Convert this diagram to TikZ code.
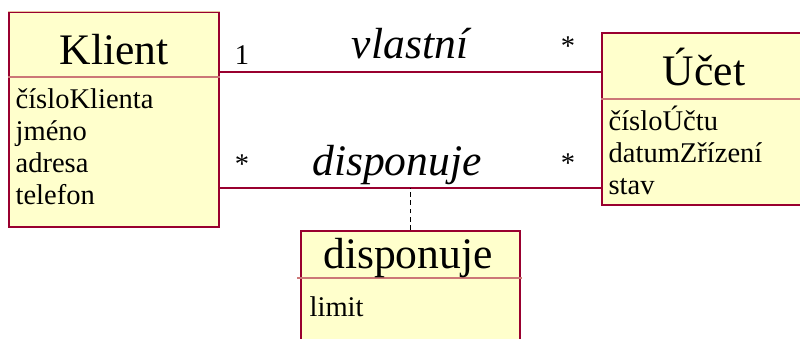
\documentclass[tikz,border=0pt]{standalone}
\usepackage{fontspec}
\setmainfont{LiberationSerif}[Extension=.ttf, UprightFont=*-Regular, ItalicFont=*-Italic, BoldFont=*-Bold]
\usepackage{xcolor}
\usepackage{tikz}
\usetikzlibrary{calc}

\definecolor{umlfill}{HTML}{FFFFCC}
\definecolor{umlline}{HTML}{99002F}
\definecolor{umldiv}{HTML}{CC7777}
\definecolor{umltop}{HTML}{E8C8A0}

\begin{document}
\begin{tikzpicture}[line width=0.9pt, color=black,
		clsbox/.style={draw=umlline, fill=umlfill, inner sep=0pt},
		divider/.style={draw=umldiv},
		assoc/.style={draw=umlline},
		title/.style={anchor=base, inner sep=0pt, font=\fontsize{31}{36}\selectfont},
		attr/.style={anchor=base west, inner sep=0pt, font=\fontsize{20.3}{24}\selectfont},
		role/.style={anchor=base, inner sep=0pt, font=\fontsize{31}{36}\selectfont\itshape},
		mult/.style={inner sep=0pt, font=\fontsize{20.3}{24}\selectfont}]
		\clip (0,0) rectangle (20,8.45);
		
		\node[clsbox, minimum width=5.25cm, minimum height=5.375cm] (klient) at (2.85,5.4625) {};
		\node[clsbox, minimum width=5.1cm, minimum height=4.3cm] (ucet) at (17.6,5.475) {};
		\node[clsbox, minimum width=5.475cm, minimum height=2.975cm] (disp) at (10.2625,1.1875) {};
		\draw[umltop] (klient.north west) -- (klient.north east);
		
		\draw[divider] (klient.west |- 0,6.525) -- (klient.east |- 0,6.525);
		\draw[divider] (ucet.west |- 0,5.975) -- (ucet.east |- 0,5.975);
		\draw[divider] ($(disp.west |- 0,1.5)+(-0.075,0)$) -- ($(disp.east |- 0,1.5)+(0.025,0)$);
		
		\node[title] (klientT) at (2.85,6.825) {Klient};
		\node[title] (ucetT) at (17.6,6.325) {Účet};
		\node[title] (dispT) at (10.2,1.75) {disponuje};
		
		\foreach \txt [count=\i] in {čísloKlienta, jméno, adresa, telefon}
			\node[attr] (ka\i) at (0.375,{5.75-0.8*(\i-1)}) {\txt};
		\foreach \txt [count=\i] in {čísloÚčtu, datumZřízení, stav}
			\node[attr] (ua\i) at (15.2,{5.2-0.81*(\i-1)}) {\txt};
		\node[attr] (da1) at (7.725,0.55) {limit};
		
		\coordinate (vl) at (0,6.65);
		\coordinate (dl) at (0,3.75);
		\draw[assoc] (vl -| klient.east) -- (vl -| ucet.west);
		\draw[assoc] (dl -| klient.east) -- (dl -| ucet.west);
		\draw[line width=0.6pt, dash pattern=on 3.5pt off 2.5pt] (disp.north) -- (disp.north |- dl);
		
		\begin{scope}
			\node[role] (vlastni) at (10.25,6.975) {vlastní};
			\node[role] (disponuje) at (9.925,4.075) {disponuje};
			\node[mult, anchor=base] (m1) at (6.05,6.825) {1};
			\node[mult] (m2) at (14.2,7.3) {*};
			\node[mult] (m3) at (6.05,4.35) {*};
			\node[mult] (m4) at (14.2,4.375) {*};
		\end{scope}
	\end{tikzpicture}
\end{document}
